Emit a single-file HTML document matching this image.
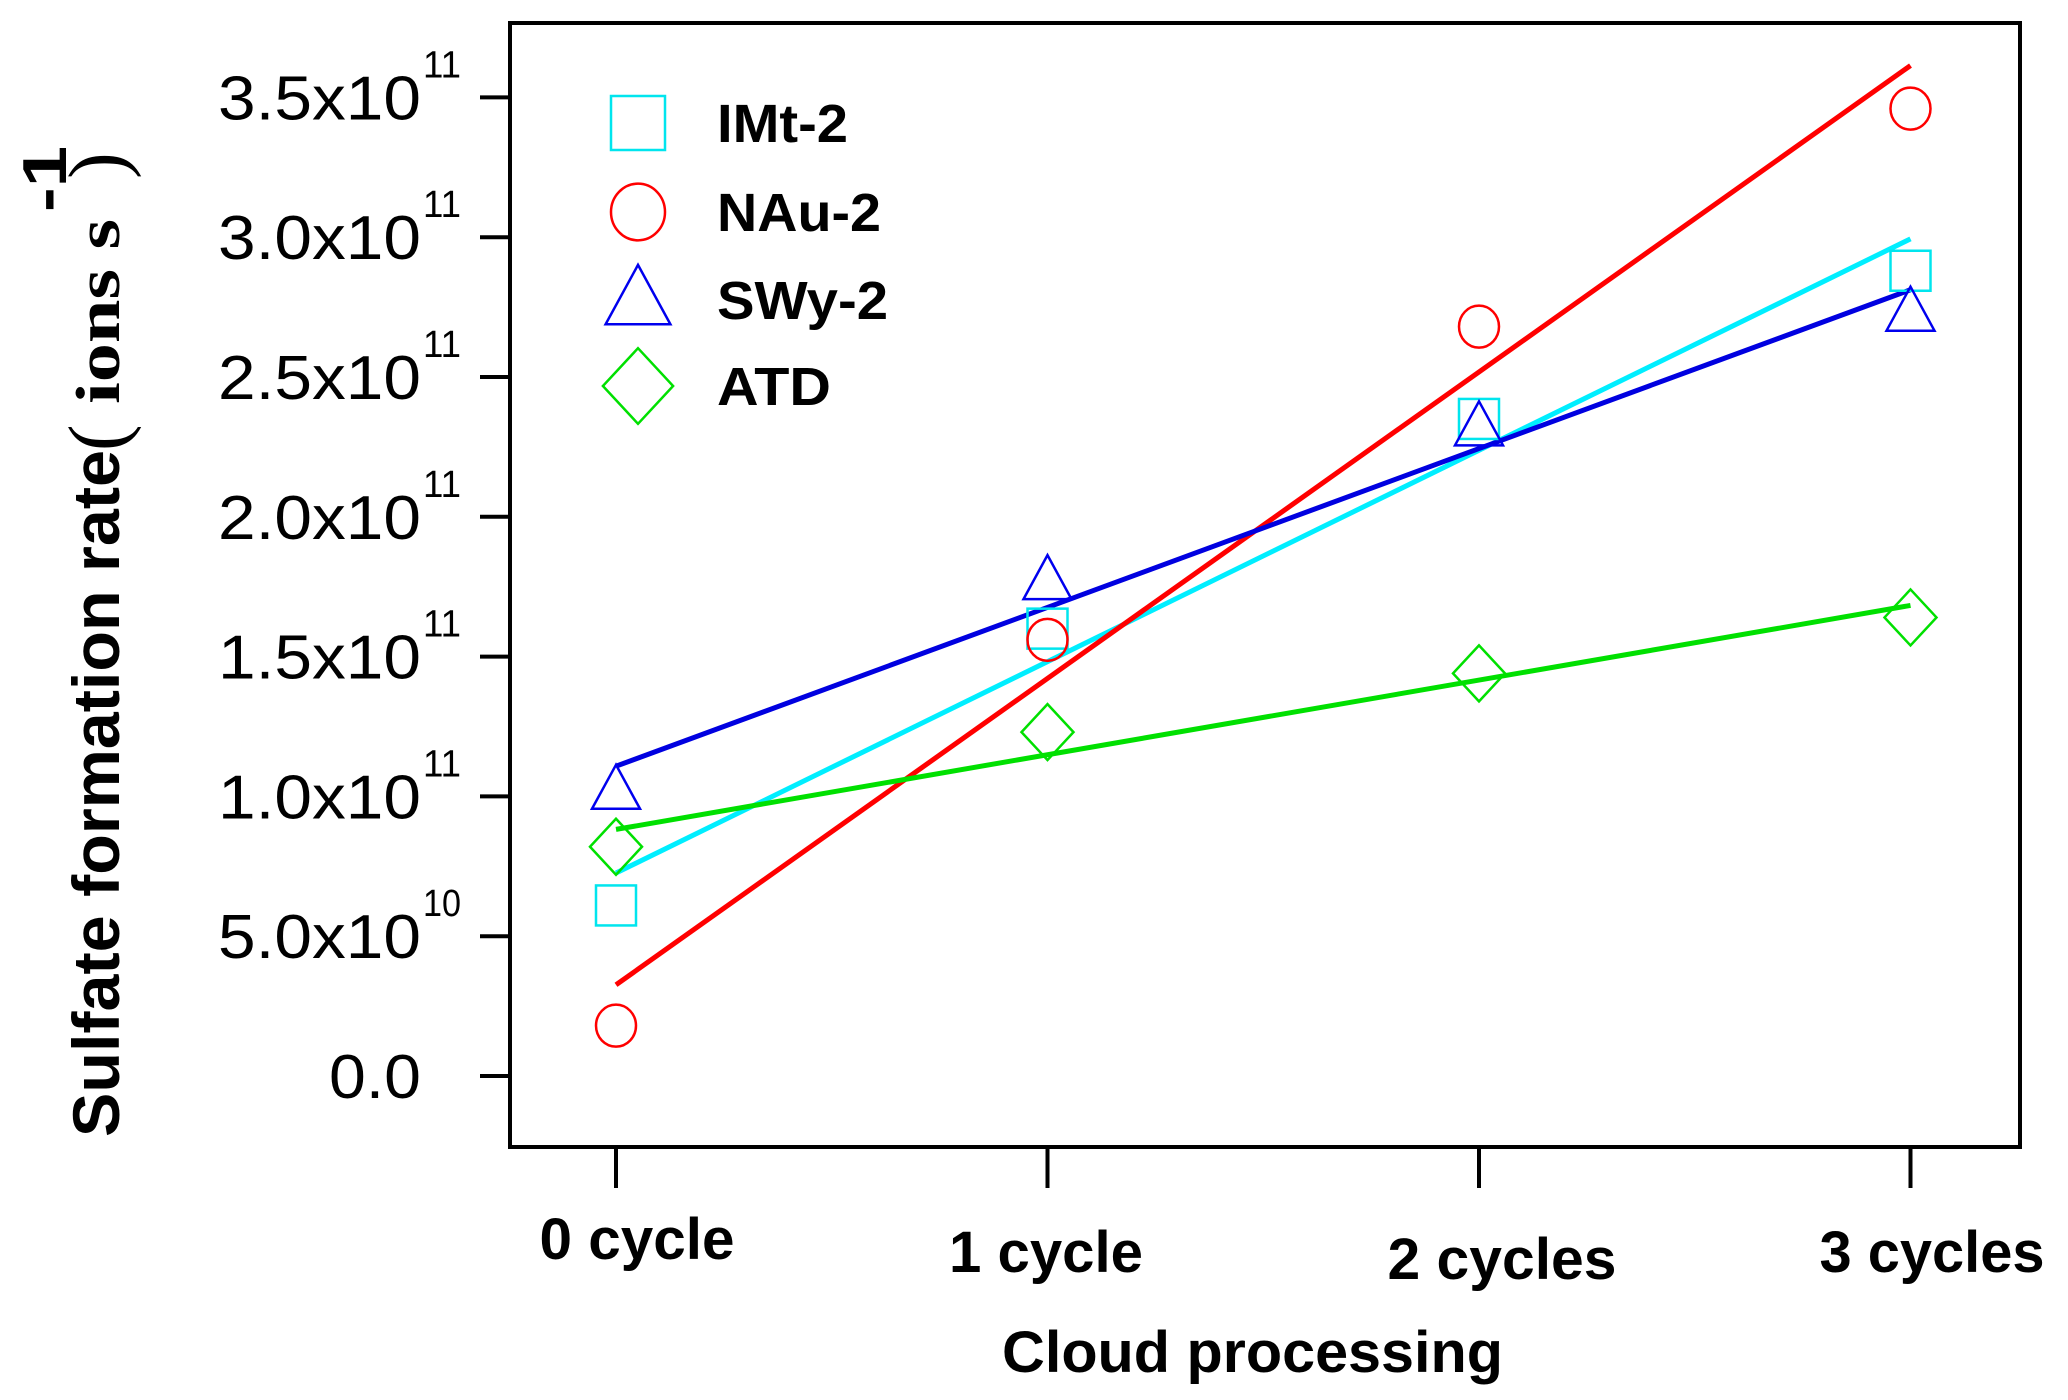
<!DOCTYPE html>
<html><head><meta charset="utf-8"><style>
html,body{margin:0;padding:0;background:#fff;}
svg{display:block;}
</style></head><body>
<svg id="chart" width="2068" height="1400" viewBox="0 0 2068 1400" xmlns="http://www.w3.org/2000/svg">
<g id="axes"></g><g id="marks"></g><g id="legend"></g>
</svg>
<script>
const categories = ["0 cycle","1 cycle","2 cycles","3 cycles"];
const yTicks = [0,0.5,1.0,1.5,2.0,2.5,3.0,3.5];
const yTickMant = ["0.0","5.0x10","1.0x10","1.5x10","2.0x10","2.5x10","3.0x10","3.5x10"];
const yTickExp = ["","10","11","11","11","11","11","11"];
const seriesNames = ["IMt-2","NAu-2","SWy-2","ATD"];
const imt2 = [0.61,1.6,2.35,2.88];
const nau2 = [0.18,1.56,2.68,3.46];
const swy2 = [1.02,1.77,2.32,2.73];
const atd = [0.82,1.23,1.44,1.64];
const seriesData = [imt2,nau2,swy2,atd];
const colors = ["#00e5ee","#ff0000","#0000ee","#00e000"];
const lineColors = ["#00eeff","#ff0000","#0000e0","#00e000"];
const shapes = ["square","circle","triangle","diamond"];

const NS="http://www.w3.org/2000/svg";
const L=510,R=2020,T=23,B=1147;
function xS(i){return 616+i*431.5;}
function yS(v){return 1076-v*279.6;}
function mk(tag,attrs,parent,text){const e=document.createElementNS(NS,tag);for(const k in attrs)e.setAttribute(k,attrs[k]);if(text!==undefined)e.textContent=text;parent.appendChild(e);return e;}
const axes=document.getElementById('axes'),marks=document.getElementById('marks'),legend=document.getElementById('legend');

const frame=mk('rect',{x:L,y:T,width:R-L,height:B-T,fill:'none',stroke:'#000','stroke-width':4},axes);



yTicks.forEach((v,i)=>{
  const y=yS(v);
  const t=mk('line',{x1:480,x2:L,y1:y,y2:y,stroke:'#000','stroke-width':4},axes);
  
  
  const w = yTickMant[i].length===3 ? 92 : 203;
  const lab=mk('text',{x:421-w,y:y+22,'font-family':'Liberation Sans, sans-serif','font-size':62,fill:'#000',textLength:w,lengthAdjust:'spacingAndGlyphs'},axes);
  
  
  lab.textContent=yTickMant[i];
  if(yTickExp[i]){
    const s=mk('text',{x:423,y:y-20,'font-family':'Liberation Sans, sans-serif','font-size':38,fill:'#000',textLength:38,lengthAdjust:'spacingAndGlyphs'},axes,yTickExp[i]);
    
    
  }
});
const xlabY=[1259,1272,1279,1272];
const xlabX=[637,1046,1502,1932];
const xlabW=[195,194,229,225];
categories.forEach((c,i)=>{
  const x=xS(i);
  const t=mk('line',{x1:x,x2:x,y1:B,y2:1188,stroke:'#000','stroke-width':4},axes);
  
  
  const lab=mk('text',{x:xlabX[i]-xlabW[i]/2,y:xlabY[i],'font-family':'Liberation Sans, sans-serif','font-weight':'bold','font-size':58,fill:'#000',textLength:xlabW[i],lengthAdjust:'spacingAndGlyphs'},axes,c);
  
  
});
const xt=mk('text',{x:1002,y:1372,'font-family':'Liberation Sans, sans-serif','font-weight':'bold','font-size':58,fill:'#000',textLength:501,lengthAdjust:'spacingAndGlyphs'},axes,'Cloud processing');



function vtext(txt,bx,by,len,size,fam,name,weight){
  const a={transform:`translate(${bx},${by}) rotate(-90)`,x:0,y:0,'font-family':fam,'font-weight':weight||'bold','font-size':size,fill:'#000'};
  if(len){a.textLength=len;a.lengthAdjust='spacingAndGlyphs';}
  const e=mk('text',a,axes,txt);
  
  
  return e;
}
vtext('Sulfate formation rate',119,1137,687,66,'Liberation Sans, sans-serif','y-axis-title');
vtext('(',124,451,0,80,'Liberation Serif, serif','y-axis-title-paren','normal');
vtext('ions s',119,404,185,62,'Liberation Serif, serif','y-axis-title-unit');
vtext('-1',66,212,66,62,'Liberation Sans, sans-serif','y-axis-title-exponent');
vtext(')',124,179,0,80,'Liberation Serif, serif','y-axis-title-paren','normal');

function drawShape(shape,cx,cy,sc,color,parent){
  let e;
  const a={fill:'none',stroke:color,'stroke-width':2.5};
  if(shape==='square'){e=mk('rect',Object.assign({x:cx-20*sc,y:cy-20*sc,width:40*sc,height:40*sc},a),parent);}
  else if(shape==='circle'){e=mk('ellipse',Object.assign({cx:cx,cy:cy,rx:20*sc,ry:21*sc},a),parent);}
  else if(shape==='triangle'){e=mk('polygon',Object.assign({points:`${cx},${cy-26*sc} ${cx-24*sc},${cy+18*sc} ${cx+24*sc},${cy+18*sc}`},a),parent);}
  else {e=mk('polygon',Object.assign({points:`${cx},${cy-28*sc} ${cx+26*sc},${cy} ${cx},${cy+28*sc} ${cx-26*sc},${cy}`},a),parent);}
  return e;
}
seriesData.forEach((d,s)=>{
  const n=d.length, mx=(n-1)/2, my=d.reduce((a,b)=>a+b,0)/n;
  let num=0,den=0; d.forEach((v,i)=>{num+=(i-mx)*(v-my);den+=(i-mx)*(i-mx);});
  const slope=num/den, ic=my-slope*mx;
  const ln=mk('line',{x1:xS(0),y1:yS(ic),x2:xS(n-1),y2:yS(ic+slope*(n-1)),stroke:lineColors[s],'stroke-width':5},marks);
  
  
});
seriesData.forEach((d,s)=>{
  d.forEach((v,i)=>{
    const e=drawShape(shapes[s],xS(i),yS(v),1,colors[s],marks);
    
    
  });
});
const legY=[123,212,300,386];
const legW=[131,164,171,114];
seriesNames.forEach((nm,s)=>{
  const e=drawShape(shapes[s],638,legY[s],1.35,colors[s],legend);
  
  
  const t=mk('text',{x:717,y:legY[s]+19,'font-family':'Liberation Sans, sans-serif','font-weight':'bold','font-size':54,fill:'#000',textLength:legW[s],lengthAdjust:'spacingAndGlyphs'},legend,nm);
  
  
});
</script>
</body></html>
